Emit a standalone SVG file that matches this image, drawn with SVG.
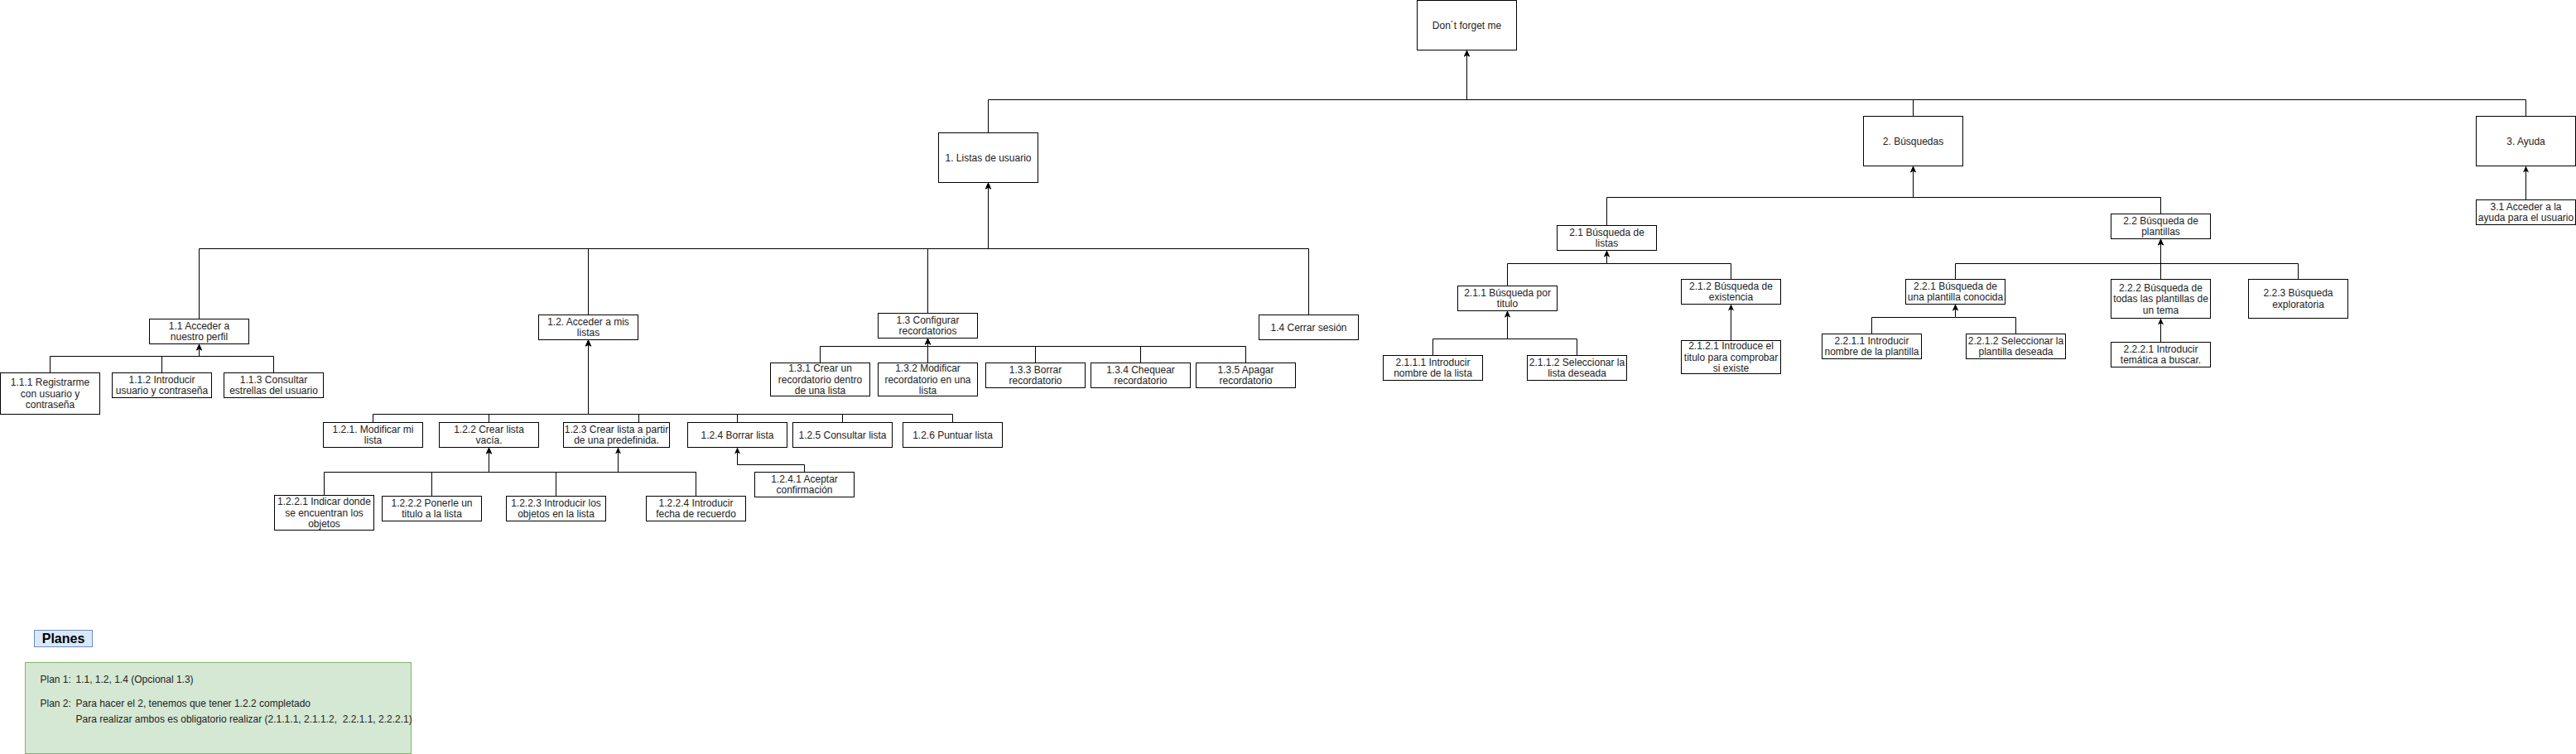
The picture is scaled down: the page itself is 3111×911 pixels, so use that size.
<svg xmlns="http://www.w3.org/2000/svg" width="3111" height="911" viewBox="0 0 3111 911">
<style>
.box{fill:#ffffff;stroke:#000000;stroke-width:1}
.t{font-family:"Liberation Sans",Arial,sans-serif;font-size:12px;fill:#222222;text-anchor:middle}
.e{fill:none;stroke:#000000;stroke-width:1;marker-end:url(#arr)}
.lt{font-family:"Liberation Sans",Arial,sans-serif;font-size:12px;fill:#222222}
</style>
<defs>
<marker id="arr" viewBox="0 0 8 8" refX="8" refY="4" markerWidth="8" markerHeight="8" markerUnits="userSpaceOnUse" orient="auto">
<path d="M0,0.5 L8,4 L0,7.5 L2,4 Z" fill="#000000" stroke="none"/>
</marker>
</defs>
<rect width="3111" height="911" fill="#ffffff"/>
<g transform="translate(0.5,0.5)">
<g id="connectors">
<path class="e" d="M1193,160 V120 H1771 V60"/>
<path class="e" d="M2310,140 V120 H1771 V60"/>
<path class="e" d="M3050,140 V120 H1771 V60"/>
<path class="e" d="M240,385 V300 H1193 V220"/>
<path class="e" d="M710,380 V300 H1193 V220"/>
<path class="e" d="M1120,378 V300 H1193 V220"/>
<path class="e" d="M1580,380 V300 H1193 V220"/>
<path class="e" d="M60,450 V430 H240 V415"/>
<path class="e" d="M195,450 V430 H240 V415"/>
<path class="e" d="M330,450 V430 H240 V415"/>
<path class="e" d="M450,510 V500 H710 V410"/>
<path class="e" d="M590,510 V500 H710 V410"/>
<path class="e" d="M771,510 V500 H710 V410"/>
<path class="e" d="M890,510 V500 H710 V410"/>
<path class="e" d="M1017,510 V500 H710 V410"/>
<path class="e" d="M1150,510 V500 H710 V410"/>
<path class="e" d="M391,598 V570 H590 V540"/>
<path class="e" d="M521,599 V570 H590 V540"/>
<path class="e" d="M671,599 V570 H590 V540"/>
<path class="e" d="M840,599 V570 H590 V540"/>
<path class="e" d="M840,599 V570 H746 V540"/>
<path class="e" d="M971,570 V561 H890 V540"/>
<path class="e" d="M990,438 V418 H1120 V408"/>
<path class="e" d="M1120,438 V408"/>
<path class="e" d="M1250,438 V418 H1120 V408"/>
<path class="e" d="M1377,438 V418 H1120 V408"/>
<path class="e" d="M1504,438 V418 H1120 V408"/>
<path class="e" d="M1940,272 V238 H2310 V200"/>
<path class="e" d="M2609,258 V238 H2310 V200"/>
<path class="e" d="M1820,345 V318 H1940 V302"/>
<path class="e" d="M2090,337 V318 H1940 V302"/>
<path class="e" d="M1730,429 V409 H1820 V375"/>
<path class="e" d="M1904,429 V409 H1820 V375"/>
<path class="e" d="M2090,411 V367"/>
<path class="e" d="M2361,337 V318 H2609 V288"/>
<path class="e" d="M2609,337 V288"/>
<path class="e" d="M2775,337 V318 H2609 V288"/>
<path class="e" d="M2260,403 V383 H2361 V367"/>
<path class="e" d="M2434,403 V383 H2361 V367"/>
<path class="e" d="M2609,413 V384"/>
<path class="e" d="M3050,241 V200"/>
</g>
<g id="n0"><rect class="box" x="1711" y="0" width="120" height="60"/><text class="t" x="1771" y="34">Don´t forget me</text></g>
<g id="n1"><rect class="box" x="1133" y="160" width="120" height="60"/><text class="t" x="1193" y="194">1. Listas de usuario</text></g>
<g id="n2"><rect class="box" x="2250" y="140" width="120" height="60"/><text class="t" x="2310" y="174">2. Búsquedas</text></g>
<g id="n3"><rect class="box" x="2990" y="140" width="120" height="60"/><text class="t" x="3050" y="174">3. Ayuda</text></g>
<g id="n1_1"><rect class="box" x="180" y="385" width="120" height="30"/><text class="t" x="240" y="397.25">1.1 Acceder a</text><text class="t" x="240" y="410.75">nuestro perfil</text></g>
<g id="n1_1_1"><rect class="box" x="0" y="450" width="120" height="50"/><text class="t" x="60" y="465.5">1.1.1 Registrarme</text><text class="t" x="60" y="479">con usuario y</text><text class="t" x="60" y="492.5">contraseña</text></g>
<g id="n1_1_2"><rect class="box" x="135" y="450" width="120" height="30"/><text class="t" x="195" y="462.25">1.1.2 Introducir</text><text class="t" x="195" y="475.75">usuario y contraseña</text></g>
<g id="n1_1_3"><rect class="box" x="270" y="450" width="120" height="30"/><text class="t" x="330" y="462.25">1.1.3 Consultar</text><text class="t" x="330" y="475.75">estrellas del usuario</text></g>
<g id="n1_2"><rect class="box" x="650" y="380" width="120" height="30"/><text class="t" x="710" y="392.25">1.2. Acceder a mis</text><text class="t" x="710" y="405.75">listas</text></g>
<g id="n1_2_1"><rect class="box" x="390" y="510" width="120" height="30"/><text class="t" x="450" y="522.25">1.2.1. Modificar mi</text><text class="t" x="450" y="535.75">lista</text></g>
<g id="n1_2_2"><rect class="box" x="530" y="510" width="120" height="30"/><text class="t" x="590" y="522.25">1.2.2 Crear lista</text><text class="t" x="590" y="535.75">vacía.</text></g>
<g id="n1_2_3"><rect class="box" x="680" y="510" width="128" height="30"/><text class="t" x="744" y="522.25">1.2.3 Crear lista a partir</text><text class="t" x="744" y="535.75">de una predefinida.</text></g>
<g id="n1_2_4"><rect class="box" x="830" y="510" width="120" height="30"/><text class="t" x="890" y="529">1.2.4 Borrar lista</text></g>
<g id="n1_2_5"><rect class="box" x="957" y="510" width="120" height="30"/><text class="t" x="1017" y="529">1.2.5 Consultar lista</text></g>
<g id="n1_2_6"><rect class="box" x="1090" y="510" width="120" height="30"/><text class="t" x="1150" y="529">1.2.6 Puntuar lista</text></g>
<g id="n1_2_2_1"><rect class="box" x="331" y="598" width="120" height="42"/><text class="t" x="391" y="609.5">1.2.2.1 Indicar donde</text><text class="t" x="391" y="623">se encuentran los</text><text class="t" x="391" y="636.5">objetos</text></g>
<g id="n1_2_2_2"><rect class="box" x="461" y="599" width="120" height="30"/><text class="t" x="521" y="611.25">1.2.2.2 Ponerle un</text><text class="t" x="521" y="624.75">titulo a la lista</text></g>
<g id="n1_2_2_3"><rect class="box" x="611" y="599" width="120" height="30"/><text class="t" x="671" y="611.25">1.2.2.3 Introducir los</text><text class="t" x="671" y="624.75">objetos en la lista</text></g>
<g id="n1_2_2_4"><rect class="box" x="780" y="599" width="120" height="30"/><text class="t" x="840" y="611.25">1.2.2.4 Introducir</text><text class="t" x="840" y="624.75">fecha de recuerdo</text></g>
<g id="n1_2_4_1"><rect class="box" x="911" y="570" width="120" height="30"/><text class="t" x="971" y="582.25">1.2.4.1 Aceptar</text><text class="t" x="971" y="595.75">confirmación</text></g>
<g id="n1_3"><rect class="box" x="1060" y="378" width="120" height="30"/><text class="t" x="1120" y="390.25">1.3 Configurar</text><text class="t" x="1120" y="403.75">recordatorios</text></g>
<g id="n1_3_1"><rect class="box" x="930" y="438" width="120" height="40"/><text class="t" x="990" y="448.5">1.3.1 Crear un</text><text class="t" x="990" y="462">recordatorio dentro</text><text class="t" x="990" y="475.5">de una lista</text></g>
<g id="n1_3_2"><rect class="box" x="1060" y="438" width="120" height="40"/><text class="t" x="1120" y="448.5">1.3.2 Modificar</text><text class="t" x="1120" y="462">recordatorio en una</text><text class="t" x="1120" y="475.5">lista</text></g>
<g id="n1_3_3"><rect class="box" x="1190" y="438" width="120" height="30"/><text class="t" x="1250" y="450.25">1.3.3 Borrar</text><text class="t" x="1250" y="463.75">recordatorio</text></g>
<g id="n1_3_4"><rect class="box" x="1317" y="438" width="120" height="30"/><text class="t" x="1377" y="450.25">1.3.4 Chequear</text><text class="t" x="1377" y="463.75">recordatorio</text></g>
<g id="n1_3_5"><rect class="box" x="1444" y="438" width="120" height="30"/><text class="t" x="1504" y="450.25">1.3.5 Apagar</text><text class="t" x="1504" y="463.75">recordatorio</text></g>
<g id="n1_4"><rect class="box" x="1520" y="380" width="120" height="30"/><text class="t" x="1580" y="399">1.4 Cerrar sesión</text></g>
<g id="n2_1"><rect class="box" x="1880" y="272" width="120" height="30"/><text class="t" x="1940" y="284.25">2.1 Búsqueda de</text><text class="t" x="1940" y="297.75">listas</text></g>
<g id="n2_1_1"><rect class="box" x="1760" y="345" width="120" height="30"/><text class="t" x="1820" y="357.25">2.1.1 Búsqueda por</text><text class="t" x="1820" y="370.75">titulo</text></g>
<g id="n2_1_2"><rect class="box" x="2030" y="337" width="120" height="30"/><text class="t" x="2090" y="349.25">2.1.2 Búsqueda de</text><text class="t" x="2090" y="362.75">existencia</text></g>
<g id="n2_1_1_1"><rect class="box" x="1670" y="429" width="120" height="30"/><text class="t" x="1730" y="441.25">2.1.1.1 Introducir</text><text class="t" x="1730" y="454.75">nombre de la lista</text></g>
<g id="n2_1_1_2"><rect class="box" x="1844" y="429" width="120" height="30"/><text class="t" x="1904" y="441.25">2.1.1.2 Seleccionar la</text><text class="t" x="1904" y="454.75">lista deseada</text></g>
<g id="n2_1_2_1"><rect class="box" x="2030" y="411" width="120" height="40"/><text class="t" x="2090" y="421.5">2.1.2.1 Introduce el</text><text class="t" x="2090" y="435">titulo para comprobar</text><text class="t" x="2090" y="448.5">si existe</text></g>
<g id="n2_2"><rect class="box" x="2549" y="258" width="120" height="30"/><text class="t" x="2609" y="270.25">2.2 Búsqueda de</text><text class="t" x="2609" y="283.75">plantillas</text></g>
<g id="n2_2_1"><rect class="box" x="2301" y="337" width="120" height="30"/><text class="t" x="2361" y="349.25">2.2.1 Búsqueda de</text><text class="t" x="2361" y="362.75">una plantilla conocida</text></g>
<g id="n2_2_2"><rect class="box" x="2549" y="337" width="120" height="47"/><text class="t" x="2609" y="351">2.2.2 Búsqueda de</text><text class="t" x="2609" y="364.5">todas las plantillas de</text><text class="t" x="2609" y="378">un tema</text></g>
<g id="n2_2_3"><rect class="box" x="2715" y="337" width="120" height="47"/><text class="t" x="2775" y="357.75">2.2.3 Búsqueda</text><text class="t" x="2775" y="371.25">exploratoria</text></g>
<g id="n2_2_1_1"><rect class="box" x="2200" y="403" width="120" height="30"/><text class="t" x="2260" y="415.25">2.2.1.1 Introducir</text><text class="t" x="2260" y="428.75">nombre de la plantilla</text></g>
<g id="n2_2_1_2"><rect class="box" x="2374" y="403" width="120" height="30"/><text class="t" x="2434" y="415.25">2.2.1.2 Seleccionar la</text><text class="t" x="2434" y="428.75">plantilla deseada</text></g>
<g id="n2_2_2_1"><rect class="box" x="2549" y="413" width="120" height="30"/><text class="t" x="2609" y="425.25">2.2.2.1 Introducir</text><text class="t" x="2609" y="438.75">temática a buscar.</text></g>
<g id="n3_1"><rect class="box" x="2990" y="241" width="120" height="30"/><text class="t" x="3050" y="253.25">3.1 Acceder a la</text><text class="t" x="3050" y="266.75">ayuda para el usuario</text></g>
<g id="planes_title"><rect x="41" y="761" width="70" height="20" fill="#dae8fc" stroke="#6c8ebf" stroke-width="1"/><text x="76" y="776.5" font-family="'Liberation Sans',Arial,sans-serif" font-size="16" font-weight="bold" fill="#000000" text-anchor="middle">Planes</text></g>
<g id="planes_box"><rect x="30" y="800" width="466" height="110" fill="#d5e8d4" stroke="#82b366" stroke-width="1"/>
<text class="lt" x="48" y="824">Plan 1:</text><text class="lt" x="91" y="824">1.1, 1.2, 1.4 (Opcional 1.3)</text>
<text class="lt" x="48" y="853">Plan 2:</text><text class="lt" x="91" y="853">Para hacer el 2, tenemos que tener 1.2.2 completado</text>
<text class="lt" x="91" y="872" xml:space="preserve">Para realizar ambos es obligatorio realizar (2.1.1.1, 2.1.1.2,  2.2.1.1, 2.2.2.1)</text></g>
</g>
</svg>
